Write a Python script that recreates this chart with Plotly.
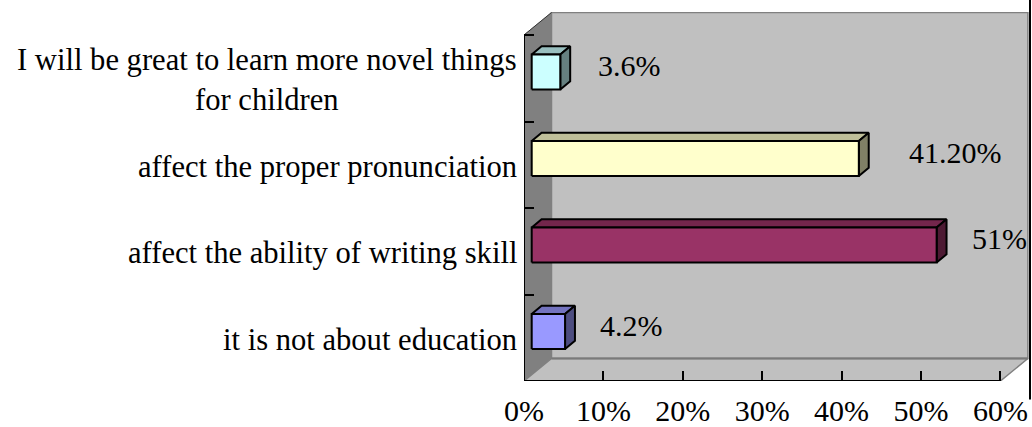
import plotly.graph_objects as go

# ---- data (bottom to top) ----
categories = [
    "it is not about education",
    "affect the ability of writing skill",
    "affect the proper pronunciation",
    "I will be great to learn more novel things<br>for children",
]
values = [4.2, 51, 41.2, 3.6]
value_labels = ["4.2%", "51%", "41.20%", "3.6%"]
x_ticks = [0, 10, 20, 30, 40, 50, 60]
x_tick_labels = ["0%", "10%", "20%", "30%", "40%", "50%", "60%"]

# ---- styling ----
front_colors = ["#9999FF", "#993366", "#FFFFCC", "#CCFFFF"]
top_colors = ["#7373BF", "#73264C", "#BFBF99", "#99BFBF"]
side_colors = ["#4D4D80", "#4D1A33", "#808066", "#668080"]
label_xshift = [33, 33, 48, 36]

FONT = "Liberation Serif, Times New Roman, Times, DejaVu Serif, serif"
W, H = 1032, 427
M_L, M_R, M_T, M_B = 524, 2, 12, 46
PX_PER_PCT = 7.94          # horizontal scale of the front plane
PX_PER_BAND = 86.5         # height of one category band
X_MAX = 60
DX = 27.5 / PX_PER_PCT     # depth of the 3-D box, x units
DY = 22.5 / PX_PER_BAND    # depth of the 3-D box, band units
BAR_FRONT, BAR_BACK = 0.28, 0.64   # bar faces as fractions of box depth
BAR_H = 0.405

n = len(categories)
x_range = [0, (W - M_L - M_R) / PX_PER_PCT]
y_range = [-0.5, -0.5 + (H - M_T - M_B) / PX_PER_BAND]

fig = go.Figure()


def poly(xs, ys, fill, line_color, width):
    fig.add_trace(go.Scatter(
        x=xs + [xs[0]], y=ys + [ys[0]], mode="lines", fill="toself",
        fillcolor=fill, line=dict(color=line_color, width=width),
        hoverinfo="skip", showlegend=False))


def seg(xs, ys, color, width):
    fig.add_trace(go.Scatter(
        x=xs, y=ys, mode="lines", line=dict(color=color, width=width),
        hoverinfo="skip", showlegend=False))


y_lo, y_hi = -0.5, n - 0.5

# walls and floor
poly([DX, X_MAX + DX, X_MAX + DX, DX],
     [y_lo + DY, y_lo + DY, y_hi + DY, y_hi + DY], "#C0C0C0", "#808080", 1.5)
poly([0, DX, DX, 0], [y_lo, y_lo + DY, y_hi + DY, y_hi], "#808080", "#808080", 0.5)
poly([0, X_MAX, X_MAX + DX, DX], [y_lo, y_lo, y_lo + DY, y_lo + DY],
     "#C0C0C0", "#808080", 1.5)
seg([DX, X_MAX + DX], [y_lo + DY, y_lo + DY], "#7A7A7A", 2)
seg([0, DX], [y_hi, y_hi + DY], "#333333", 1)
seg([0, 0, X_MAX], [y_hi, y_lo, y_lo], "black", 2)

# 3-D bars
d_x = (BAR_BACK - BAR_FRONT) * DX
d_y = (BAR_BACK - BAR_FRONT) * DY
for i, v in enumerate(values):
    yc = i + BAR_FRONT * DY
    y0, y1 = yc - BAR_H / 2, yc + BAR_H / 2
    x0, x1 = BAR_FRONT * DX, v + BAR_FRONT * DX
    poly([x0, x1, x1 + d_x, x0 + d_x], [y1, y1, y1 + d_y, y1 + d_y],
         top_colors[i], "black", 2)
    poly([x1, x1 + d_x, x1 + d_x, x1], [y0, y0 + d_y, y1 + d_y, y1],
         side_colors[i], "black", 2)
    poly([x0, x1, x1, x0], [y0, y0, y1, y1], front_colors[i], "black", 2)

annotations = []
for i, (cat, v, lab) in enumerate(zip(categories, values, value_labels)):
    annotations.append(dict(
        xref="paper", x=0, yref="y", y=i, xanchor="right", yanchor="middle",
        xshift=-5, yshift=-2, text=cat, align="center", showarrow=False,
        font=dict(family=FONT, size=30.6, color="black")))
    annotations.append(dict(
        xref="x", x=v + BAR_FRONT * DX, yref="y", y=i + BAR_FRONT * DY,
        xanchor="left", yanchor="middle", xshift=label_xshift[i], yshift=6,
        text=lab, showarrow=False,
        font=dict(family=FONT, size=30, color="black")))

fig.update_layout(
    width=W, height=H,
    margin=dict(l=M_L, r=M_R, t=M_T, b=M_B, autoexpand=False),
    paper_bgcolor="white", plot_bgcolor="white",
    showlegend=False,
    font=dict(family=FONT),
    annotations=annotations,
    shapes=[dict(type="line", xref="paper", yref="paper", x0=1, x1=1,
                 y0=-0.05, y1=1.04, line=dict(color="black", width=2))],
    xaxis=dict(range=x_range, showgrid=False, zeroline=False, showline=False,
               ticks="inside", ticklen=10, tickwidth=1.5, tickcolor="black",
               tickvals=x_ticks, ticktext=x_tick_labels, ticklabelstandoff=9,
               tickfont=dict(family=FONT, size=30, color="black"),
               automargin=False, fixedrange=True),
    yaxis=dict(range=y_range, showgrid=False, zeroline=False, showline=False,
               ticks="inside", ticklen=10, tickwidth=1.5, tickcolor="black",
               tickvals=[k - 0.5 for k in range(n + 1)], showticklabels=False,
               automargin=False, fixedrange=True),
)

fig.write_html("out.html")
